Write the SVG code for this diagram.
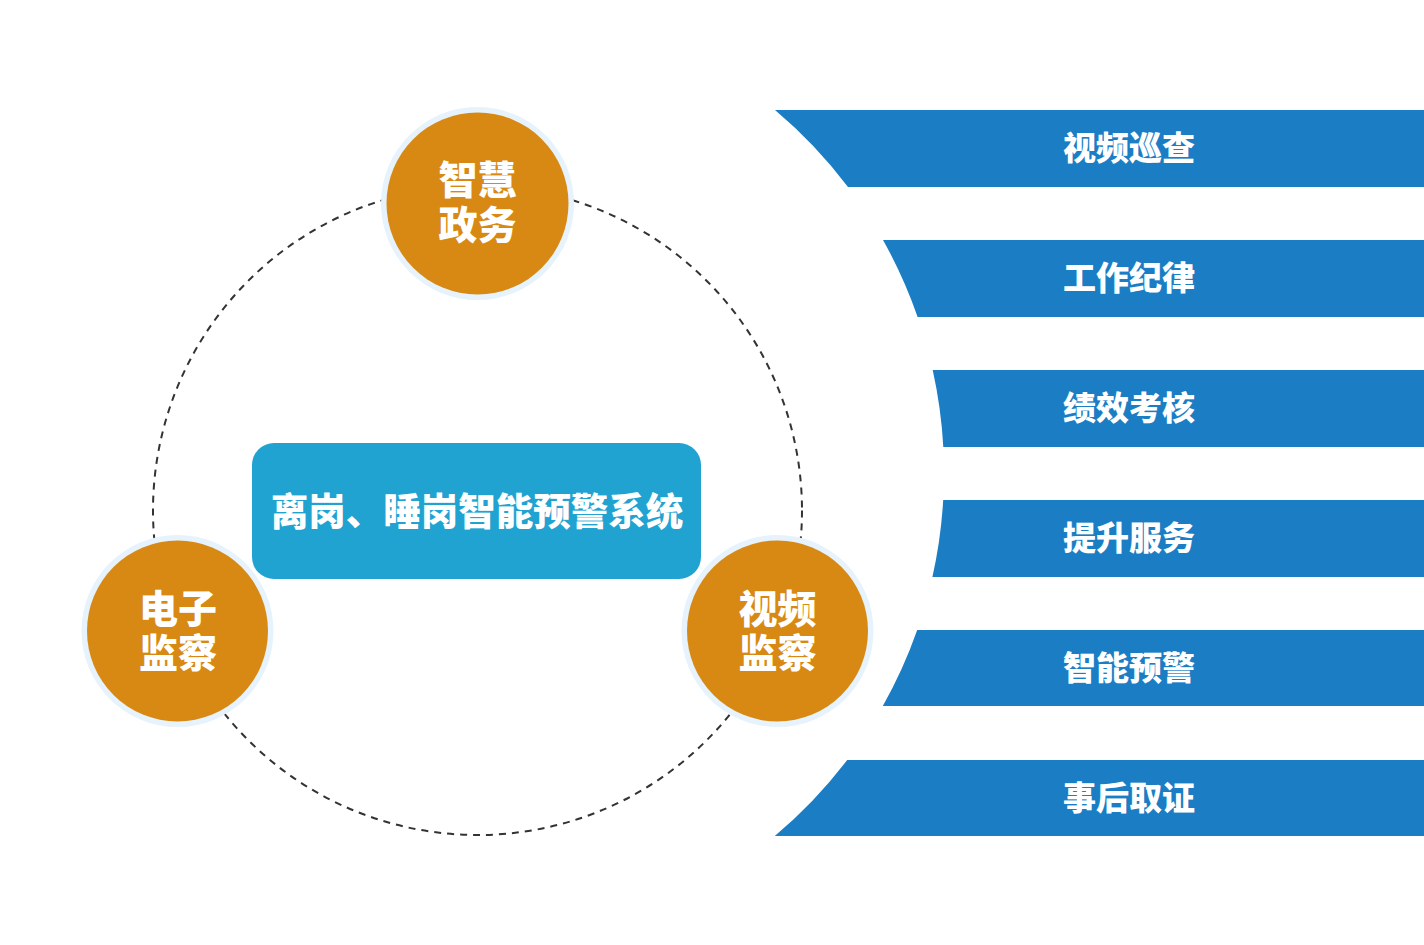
<svg xmlns="http://www.w3.org/2000/svg" width="1424" height="945" viewBox="0 0 1424 945">
<style>
.band{fill:#1b7dc4}
.bt{font-family:"Noto Sans CJK SC","Noto Sans",sans-serif;font-weight:800;font-size:33px;fill:#fff;text-anchor:middle}
.halo{fill:#e6f2fc}
.orb{fill:#d88913}
.ct{font-family:"Noto Sans CJK SC","Noto Sans",sans-serif;font-weight:800;font-size:37.5px;fill:#fff;text-anchor:middle}
.nt{font-family:"Noto Sans CJK SC","Noto Sans",sans-serif;font-weight:800;font-size:39px;fill:#fff;text-anchor:middle}
.ring{fill:none;stroke:#333;stroke-width:2;stroke-dasharray:7 6}
</style>
<rect width="1424" height="945" fill="#fff"/>
<g id="connectors">
<circle class="ring" cx="477.5" cy="510.5" r="324.5"/>
</g>
<g id="band1"><path class="band" d="M775,110 L1424,110 L1424,187 L848,187 A474,474 0 0 0 775,110 Z"/><text class="bt" x="1129" y="160">视频巡查</text></g>
<g id="band2"><path class="band" d="M883,240 L1424,240 L1424,317 L917.6,317 A474,474 0 0 0 883,240 Z"/><text class="bt" x="1129" y="290">工作纪律</text></g>
<g id="band3"><path class="band" d="M932.7,370 L1424,370 L1424,447 L943.3,447 A474,474 0 0 0 932.7,370 Z"/><text class="bt" x="1129" y="420">绩效考核</text></g>
<g id="band4"><path class="band" d="M943.2,500 L1424,500 L1424,577 L932.4,577 A474,474 0 0 0 943.2,500 Z"/><text class="bt" x="1129" y="550">提升服务</text></g>
<g id="band5"><path class="band" d="M917.2,630 L1424,630 L1424,706 L882.8,706 A474,474 0 0 0 917.2,630 Z"/><text class="bt" x="1129" y="680">智能预警</text></g>
<g id="band6"><path class="band" d="M847.2,760 L1424,760 L1424,836 L774.8,836 A474,474 0 0 0 847.2,760 Z"/><text class="bt" x="1129" y="810">事后取证</text></g>
<g id="center">
<rect x="252" y="443" width="449" height="136" rx="22" fill="#21a3d2"/>
<text class="ct" x="477" y="525">离岗、睡岗智能预警系统</text>
</g>
<g id="node-top">
<circle class="halo" cx="477.5" cy="203.5" r="96.5"/>
<circle class="orb" cx="477.5" cy="203.5" r="91"/>
<text class="nt" x="477.5" y="194">智慧<tspan x="477.5" dy="45">政务</tspan></text>
</g>
<g id="node-left">
<circle class="halo" cx="177.5" cy="631" r="96"/>
<circle class="orb" cx="177.5" cy="631" r="90.5"/>
<text class="nt" x="178" y="623">电子<tspan x="178" dy="44">监察</tspan></text>
</g>
<g id="node-right">
<circle class="halo" cx="777.5" cy="631" r="96"/>
<circle class="orb" cx="777.5" cy="631" r="90.5"/>
<text class="nt" x="777.5" y="623">视频<tspan x="777.5" dy="44">监察</tspan></text>
</g>
</svg>
